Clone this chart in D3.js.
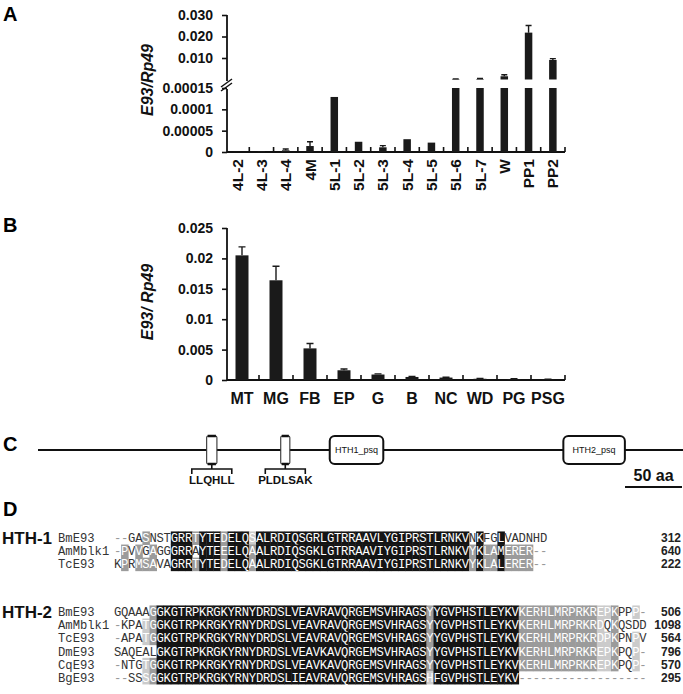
<!DOCTYPE html>
<html>
<head>
<meta charset="utf-8">
<script src="https://cdn.jsdelivr.net/npm/d3@7"></script>
<style>
body { margin: 0; background: #fff; }
</style>
</head>
<body>
<svg id="fig" width="683" height="694"></svg>
<script>
// panel A: developmental stages
var stageCats = ['4L-2', '4L-3', '4L-4', '4M', '5L-1', '5L-2', '5L-3', '5L-4', '5L-5', '5L-6', '5L-7', 'W', 'PP1', 'PP2'];
var stageVals = [0.000001, 0.000002, 0.000004, 0.000014, 0.000129, 0.000024, 0.000011, 0.00003, 0.000022, 0.0002, 0.00025, 0.0015, 0.0218, 0.0091];
var stageErr = [0, 0, 0.000003, 0.00001, 0, 0, 0.000004, 0, 0, 0.0001, 0.0002, 0.0007, 0.0033, 0.0006];
var lowTicks = [0, 0.00005, 0.0001, 0.00015];
var highTicks = [0.01, 0.02, 0.03];

// panel B: tissues
var tissueCats = ['MT', 'MG', 'FB', 'EP', 'G', 'B', 'NC', 'WD', 'PG', 'PSG'];
var tissueVals = [0.0205, 0.0164, 0.0052, 0.0016, 0.0009, 0.0005, 0.0004, 0.0002, 0.00015, 0.0001];
var tissueErr = [0.0014, 0.0023, 0.0008, 0.0002, 0.0001, 0.0001, 0.00005, 0.00005, 0.00005, 0.00005];
var tissueTicks = [0, 0.005, 0.01, 0.015, 0.02, 0.025];

// panel C: BmE93 protein (aa positions)
var protLength = 566;
var motifs = [{ name: 'LLQHLL', start: 148, end: 157 }, { name: 'PLDLSAK', start: 213, end: 221 }];
var domains = [{ name: 'HTH1_psq', start: 256, end: 303 }, { name: 'HTH2_psq', start: 461, end: 515 }];
var scaleBarAa = 50;

// panel D: alignments (k = identical, g = conserved, l = similar, . = none)
var hth1Names = ['BmE93', 'AmMblk1', 'TcE93'];
var hth1Seqs = [
	'--GASNSTGRRTYTEDELQSALRDIQSGRLGTRRAAVLYGIPRSTLRNKVNKFGLVADNHD',
	'-PVVGAGGGRRAYTEEELQAALRDIQSGKLGTRRAAVIYGIPRSTLRNKVYKLAMERER--',
	'KPRMSAVAGRRTYTEDELQAALRDIQSGKLGTRRAAVIYGIPRSTLRNKVYKLALERER--'
];
var hth1Shade = [
	'....g...kkkgkkkgkkklkkkkkkkkkkkkkkkkkkkkkkkkkkkkkk.k..k......',
	'.g.g.g..kkk.kkkgkkkgkkkkkkkkkkkkkkkkkkkkkkkkkkkkkkgkggkgggg..',
	'.g.ggg..kkkgkkkgkkkgkkkkkkkkkkkkkkkkkkkkkkkkkkkkkkgkggkgggg..'
];
var hth1Ends = ['312', '640', '222'];

var hth2Names = ['BmE93', 'AmMblk1', 'TcE93', 'DmE93', 'CqE93', 'BgE93'];
var hth2Seqs = [
	'GQAAAGGKGTRPKRGKYRNYDRDSLVEAVRAVQRGEMSVHRAGSYYGVPHSTLEYKVKERHLMRPRKREPKPPP-',
	'-KPATGGKGTRPKRGKYRNYDRDSLVEAVRAVQRGEMSVHRAGSYYGVPHSTLEYKVKERHLMRPRKRDQKQSDD',
	'-APATGGKGTRPKRGKYRNYDRDSLVEAVRAVQRGEMSVHRAGSYYGVPHSTLEYKVKERHLMRPRKRDPKPNPV',
	'SAQEALGKGTRPKRGKYRNYDRDSLVEAVKAVQRGEMSVHRAGSYYGVPHSTLEYKVKERHLMRPRKREPKPQP-',
	'-NTGTGGKGTRPKRGKYRNYDRDSLVEAVKAVQRGEMSVHRAGSYYGVPHSTLEYKVKERHLMRPRKREPKPQP-',
	'--SSSGGKGTRPKRGKYRNYDRDSLIEAVRAVQRGEMSVHRAGSHFGVPHSTLEYKV------------------'
];
var hth2Shade = [
	'.....gkkkkkkkkkkkkkkkkkkkkkkkkkkkkkkkkkkkkkkgkkkkkkkkkkkkgggggggggggllg..l.',
	'....lgkkkkkkkkkkkkkkkkkkkkkkkkkkkkkkkkkkkkkkgkkkkkkkkkkkkgggggggggggl.g....',
	'....lgkkkkkkkkkkkkkkkkkkkkkkkkkkkkkkkkkkkkkkgkkkkkkkkkkkkgggggggggggllg..l.',
	'......kkkkkkkkkkkkkkkkkkkkkkkkkkkkkkkkkkkkkkgkkkkkkkkkkkkgggggggggggllg..l.',
	'....lgkkkkkkkkkkkkkkkkkkkkkkkkkkkkkkkkkkkkkkgkkkkkkkkkkkkgggggggggggllg..l.',
	'....lgkkkkkkkkkkkkkkkkkkkkkkkkkkkkkkkkkkkkkklkkkkkkkkkkkk..................'
];
var hth2Ends = ['506', '1098', '564', '796', '570', '295'];

var sans = 'Arial, "Liberation Sans", Helvetica, sans-serif';
var mono = '"Courier New", "Liberation Mono", monospace';
var svg = d3.select('#fig');

function panelLabel(t, y) {
	svg.append('text').attr('x', 3).attr('y', y).text(t)
		.attr('font-family', sans).attr('font-weight', 'bold').attr('font-size', 20);
}

function styleAxis(g) {
	g.attr('font-family', sans).attr('font-size', 14).attr('font-weight', 'bold');
	g.select('.domain').remove();
	g.selectAll('line').attr('stroke', '#111').attr('stroke-width', 1.6);
	g.selectAll('text').attr('fill', '#111');
}

function yTitle(g, x, y, t) {
	g.append('text').attr('transform', 'translate(' + x + ',' + y + ') rotate(-90)')
		.attr('text-anchor', 'middle').attr('font-family', sans).attr('font-size', 16)
		.attr('font-weight', 'bold').attr('font-style', 'italic').attr('fill', '#111').text(t);
}

function numFmt(d) {
	return d === 0 ? '0' : String(d);
}

// ---------- A ----------
panelLabel('A', 21);
var gA = svg.append('g');
var axX = 227, baseA = 152;
var xA = d3.scaleBand().domain(stageCats).range([225, 565]);
var yLow = d3.scaleLinear().domain([0, 0.00015]).range([baseA, 88]);
var yHigh = d3.scaleLinear().domain([0, 0.03]).range([79.5, 15]);
var splitAt = 0.00015;
var rowsA = stageCats.map(function (c, i) {
	return { cat: c, v: stageVals[i], e: stageErr[i] };
});

gA.append('g').attr('transform', 'translate(' + axX + ',0)')
	.call(d3.axisLeft(yLow).tickValues(lowTicks).tickFormat(numFmt).tickSize(5).tickPadding(9))
	.call(styleAxis);
gA.append('g').attr('transform', 'translate(' + axX + ',0)')
	.call(d3.axisLeft(yHigh).tickValues(highTicks).tickFormat(d3.format('.3f')).tickSize(5).tickPadding(9))
	.call(styleAxis);
gA.append('line').attr('x1', axX).attr('x2', axX).attr('y1', baseA).attr('y2', 89)
	.attr('stroke', '#111').attr('stroke-width', 1.8);
gA.append('line').attr('x1', axX).attr('x2', axX).attr('y1', 81).attr('y2', yHigh(0.03))
	.attr('stroke', '#111').attr('stroke-width', 1.8);
// axis break
[0, 4].forEach(function (o) {
	gA.append('line').attr('x1', 221).attr('y1', 87 + o).attr('x2', 232).attr('y2', 79 + o)
		.attr('stroke', '#111').attr('stroke-width', 1.5);
});
gA.append('line').attr('x1', axX).attr('x2', 565).attr('y1', baseA).attr('y2', baseA)
	.attr('stroke', '#111').attr('stroke-width', 1.8);
gA.selectAll('line.xt').data(stageCats).enter().append('line')
	.attr('x1', function (d) { return xA(d) + xA.bandwidth(); })
	.attr('x2', function (d) { return xA(d) + xA.bandwidth(); })
	.attr('y1', baseA).attr('y2', baseA - 5)
	.attr('stroke', '#111').attr('stroke-width', 1.6);

var bwA = 7.5;
function cxA(d) { return xA(d.cat) + xA.bandwidth() / 2; }
gA.selectAll('rect.low').data(rowsA).enter().append('rect')
	.attr('x', function (d) { return cxA(d) - bwA / 2; })
	.attr('width', bwA)
	.attr('y', function (d) { return yLow(Math.min(d.v, splitAt)); })
	.attr('height', function (d) { return baseA - yLow(Math.min(d.v, splitAt)); })
	.attr('fill', '#1a1a1a');
gA.selectAll('rect.high').data(rowsA.filter(function (d) { return d.v > splitAt; })).enter().append('rect')
	.attr('x', function (d) { return cxA(d) - bwA / 2; })
	.attr('width', bwA)
	.attr('y', function (d) { return yHigh(d.v); })
	.attr('height', function (d) { return yHigh(0) - yHigh(d.v); })
	.attr('fill', '#1a1a1a');
var errA = rowsA.filter(function (d) { return d.e > 0; });
function sA(d) { return d.v > splitAt ? yHigh : yLow; }
gA.selectAll('path.err').data(errA).enter().append('path')
	.attr('d', function (d) {
		var s = sA(d), c = cxA(d), top = s(d.v + d.e);
		return 'M' + c + ',' + s(d.v) + 'V' + top + 'M' + (c - 3) + ',' + top + 'H' + (c + 3);
	})
	.attr('stroke', '#1a1a1a').attr('stroke-width', 1.4).attr('fill', 'none');
gA.selectAll('text.xl').data(stageCats).enter().append('text')
	.attr('transform', function (d) { return 'translate(' + (xA(d) + xA.bandwidth() / 2) + ',159) rotate(-90)'; })
	.attr('dy', '0.36em').attr('text-anchor', 'end')
	.attr('font-family', sans).attr('font-size', 15.5).attr('font-weight', 'bold').attr('fill', '#111')
	.text(function (d) { return d; });
yTitle(gA, 153, 80, 'E93/Rp49');

// ---------- B ----------
panelLabel('B', 232);
var gB = svg.append('g');
var baseB = 380;
var xB = d3.scaleBand().domain(tissueCats).range([225, 565]);
var yB = d3.scaleLinear().domain([0, 0.025]).range([baseB, 228]);
var rowsB = tissueCats.map(function (c, i) {
	return { cat: c, v: tissueVals[i], e: tissueErr[i] };
});
gB.append('g').attr('transform', 'translate(' + axX + ',0)')
	.call(d3.axisLeft(yB).tickValues(tissueTicks).tickFormat(numFmt).tickSize(5).tickPadding(9))
	.call(styleAxis);
gB.append('line').attr('x1', axX).attr('x2', axX).attr('y1', baseB).attr('y2', yB(0.025))
	.attr('stroke', '#111').attr('stroke-width', 1.8);
gB.append('line').attr('x1', axX).attr('x2', 565).attr('y1', baseB).attr('y2', baseB)
	.attr('stroke', '#111').attr('stroke-width', 1.8);
gB.selectAll('line.xt').data(tissueCats).enter().append('line')
	.attr('x1', function (d) { return xB(d) + xB.bandwidth(); })
	.attr('x2', function (d) { return xB(d) + xB.bandwidth(); })
	.attr('y1', baseB).attr('y2', baseB - 5)
	.attr('stroke', '#111').attr('stroke-width', 1.6);
var bwB = 13;
function cxB(d) { return xB(d.cat) + xB.bandwidth() / 2; }
gB.selectAll('rect.bar').data(rowsB).enter().append('rect')
	.attr('x', function (d) { return cxB(d) - bwB / 2; })
	.attr('width', bwB)
	.attr('y', function (d) { return yB(d.v); })
	.attr('height', function (d) { return baseB - yB(d.v); })
	.attr('fill', '#1a1a1a');
gB.selectAll('path.err').data(rowsB).enter().append('path')
	.attr('d', function (d) {
		var c = cxB(d), top = yB(d.v + d.e);
		return 'M' + c + ',' + yB(d.v) + 'V' + top + 'M' + (c - 3.5) + ',' + top + 'H' + (c + 3.5);
	})
	.attr('stroke', '#1a1a1a').attr('stroke-width', 1.4).attr('fill', 'none');
gB.selectAll('text.xl').data(tissueCats).enter().append('text')
	.attr('x', function (d) { return xB(d) + xB.bandwidth() / 2; })
	.attr('y', 404).attr('text-anchor', 'middle')
	.attr('font-family', sans).attr('font-size', 16).attr('font-weight', 'bold').attr('fill', '#111')
	.text(function (d) { return d; });
yTitle(gB, 153, 302, 'E93/ Rp49');

// ---------- C ----------
panelLabel('C', 451);
var gC = svg.append('g');
var lineY = 450;
var xC = d3.scaleLinear().domain([0, protLength]).range([38, 683]);
gC.append('line').attr('x1', xC(0)).attr('x2', xC(protLength)).attr('y1', lineY).attr('y2', lineY)
	.attr('stroke', '#111').attr('stroke-width', 2.2);
motifs.forEach(function (m) {
	var x0 = xC(m.start), x1 = xC(m.end), c = (x0 + x1) / 2;
	gC.append('rect').attr('x', x0).attr('y', lineY - 14).attr('width', x1 - x0).attr('height', 28)
		.attr('rx', 1.5).attr('fill', '#fff').attr('stroke', '#333').attr('stroke-width', 1.1);
	gC.append('path').attr('d', 'M' + (x0 + 1) + ',' + (lineY - 14) + 'H' + (x1 - 1) + 'M' + (x0 + 1) + ',' + (lineY + 14) + 'H' + (x1 - 1))
		.attr('stroke', '#111').attr('stroke-width', 2.4);
	gC.append('path')
		.attr('d', 'M' + c + ',' + (lineY + 14) + 'V' + (lineY + 19) +
			'M' + (c - 20) + ',' + (lineY + 24) + 'V' + (lineY + 19) + 'H' + (c + 20) + 'V' + (lineY + 24))
		.attr('stroke', '#111').attr('stroke-width', 1.6).attr('fill', 'none');
	gC.append('text').attr('x', c).attr('y', lineY + 34).attr('text-anchor', 'middle')
		.attr('font-family', sans).attr('font-size', 11.5).attr('font-weight', 'bold').attr('fill', '#111')
		.text(m.name);
});
domains.forEach(function (m) {
	var x0 = xC(m.start), x1 = xC(m.end);
	gC.append('rect').attr('x', x0).attr('y', lineY - 14).attr('width', x1 - x0).attr('height', 28)
		.attr('rx', 5).attr('fill', '#fff').attr('stroke', '#111').attr('stroke-width', 2);
	gC.append('text').attr('x', (x0 + x1) / 2).attr('y', lineY).attr('dy', '0.35em')
		.attr('text-anchor', 'middle').attr('font-family', sans).attr('font-size', 9).attr('fill', '#111')
		.text(m.name);
});
var barPx = xC(scaleBarAa) - xC(0);
gC.append('line').attr('x1', 682 - barPx).attr('x2', 682).attr('y1', 487).attr('y2', 487)
	.attr('stroke', '#111').attr('stroke-width', 2);
gC.append('text').attr('x', 682 - barPx / 2).attr('y', 481).attr('text-anchor', 'middle')
	.attr('font-family', sans).attr('font-size', 16).attr('font-weight', 'bold').attr('fill', '#111')
	.text(scaleBarAa + ' aa');

// ---------- D ----------
panelLabel('D', 516);
var gD = svg.append('g');
var cw = 7.1, seqX = 114, rowH = 13.1;
var shadeFill = { k: '#141414', g: '#9b9b9b', l: '#cbcbcb' };
var shadeText = { k: '#fff', g: '#fff', l: '#fff' };

function drawBlock(label, names, seqs, shades, ends, y0) {
	var g = gD.append('g');
	g.append('text').attr('x', 2).attr('y', y0).attr('dy', '0.36em')
		.attr('font-family', sans).attr('font-size', 17).attr('font-weight', 'bold').attr('fill', '#111')
		.text(label);
	names.forEach(function (n, r) {
		var cy = y0 + r * rowH;
		g.append('text').attr('x', 58).attr('y', cy).attr('dy', '0.35em')
			.attr('font-family', mono).attr('font-size', 12.2).attr('fill', '#333').text(n);
		var cells = seqs[r].split('').map(function (ch, i) {
			return { ch: ch, i: i, s: shades[r][i] };
		});
		g.selectAll('rect.r' + r).data(cells.filter(function (d) { return d.s !== '.'; })).enter().append('rect')
			.attr('x', function (d) { return seqX + d.i * cw; })
			.attr('y', cy - rowH / 2).attr('width', cw + 0.4).attr('height', rowH + 0.4)
			.attr('fill', function (d) { return shadeFill[d.s]; });
		g.selectAll('text.c' + r).data(cells).enter().append('text')
			.attr('x', function (d) { return seqX + d.i * cw + cw / 2; })
			.attr('y', cy).attr('dy', '0.35em').attr('text-anchor', 'middle')
			.attr('font-family', mono).attr('font-size', 12.2)
			.attr('fill', function (d) {
				if (d.s !== '.') return shadeText[d.s];
				return d.ch === '-' ? '#999' : '#333';
			})
			.text(function (d) { return d.ch; });
		g.append('text').attr('x', 681).attr('y', cy).attr('dy', '0.35em').attr('text-anchor', 'end')
			.attr('font-family', sans).attr('font-size', 12).attr('font-weight', 'bold').attr('fill', '#222')
			.text(ends[r]);
	});
}

drawBlock('HTH-1', hth1Names, hth1Seqs, hth1Shade, hth1Ends, 538);
drawBlock('HTH-2', hth2Names, hth2Seqs, hth2Shade, hth2Ends, 612);
</script>
</body>
</html>
